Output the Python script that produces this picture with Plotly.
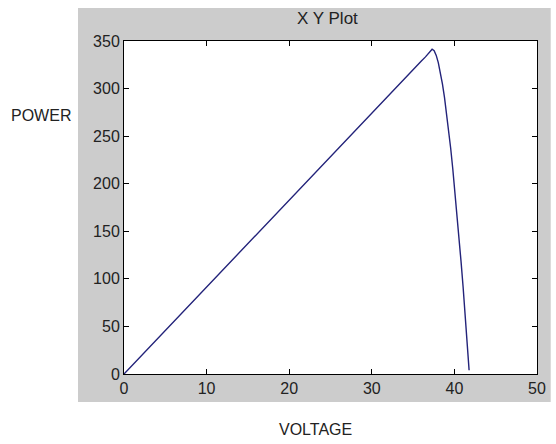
import plotly.graph_objects as go

# Data (VOLTAGE vs POWER)
voltage = [0, 5, 10, 15, 20, 25, 30, 35, 36.0, 36.5, 36.9, 37.1, 37.3, 37.55,
           37.8, 38.05, 38.3, 38.55, 38.8, 39.05, 39.3, 39.55, 39.8, 40.05,
           40.3, 40.55, 40.8, 41.05, 41.3, 41.55, 41.78]
power = [0, 45.8, 91.6, 137.4, 183.2, 229, 275, 320.5, 329, 333.3, 337, 339.6,
         341.3, 339.8, 334.9, 327.3, 317.2, 304.9, 290.8, 274.8, 256.9, 237.3,
         216, 193.4, 169.5, 144.5, 118.6, 91.9, 64.3, 35.9, 4]

x_ticks = [0, 10, 20, 30, 40, 50]
y_ticks = [0, 50, 100, 150, 200, 250, 300, 350]

W, H = 556, 444
L, R, T, B = 124, 10, 41, 70
pw, ph = W - L - R, H - T - B


def px_to_paper_x(px):
    return (px - L) / pw


def px_to_paper_y(py):
    return (H - B - py) / ph


fig = go.Figure()
fig.add_trace(go.Scatter(x=voltage, y=power, mode="lines",
                         line=dict(color="#23237a", width=1.4),
                         showlegend=False, hoverinfo="skip"))

font = dict(family="Liberation Sans, Arial, sans-serif", color="#222222")

axis_common = dict(showline=True, linecolor="black", linewidth=1,
                   mirror="allticks", ticks="inside", ticklen=5,
                   tickcolor="black", showgrid=False, zeroline=False,
                   tickfont=dict(size=16, **font))

fig.update_layout(
    width=W, height=H,
    margin=dict(l=L, r=R, t=T, b=B),
    paper_bgcolor="white",
    plot_bgcolor="white",
    xaxis=dict(range=[0, 50], tickvals=x_ticks, **axis_common),
    yaxis=dict(range=[0, 350], tickvals=y_ticks, **axis_common),
    shapes=[
        dict(type="rect", xref="paper", yref="paper", layer="below",
             x0=px_to_paper_x(77), x1=px_to_paper_x(560),
             y0=px_to_paper_y(402), y1=px_to_paper_y(8),
             fillcolor="#cccccc", line=dict(width=0)),
        dict(type="rect", xref="paper", yref="paper", layer="below",
             x0=0, x1=1, y0=0, y1=1,
             fillcolor="white", line=dict(width=0)),
    ],
    annotations=[
        dict(text="X Y Plot", xref="paper", yref="paper",
             x=px_to_paper_x(332), y=px_to_paper_y(19),
             xanchor="center", yanchor="middle", showarrow=False,
             font=dict(size=17, **font)),
        dict(text="POWER", xref="paper", yref="paper",
             x=px_to_paper_x(39), y=px_to_paper_y(115),
             xanchor="center", yanchor="middle", showarrow=False,
             font=dict(size=16, **font)),
        dict(text="VOLTAGE", xref="paper", yref="paper",
             x=px_to_paper_x(320), y=px_to_paper_y(429),
             xanchor="center", yanchor="middle", showarrow=False,
             font=dict(size=16, **font)),
    ],
)

fig.write_html("out.html")
